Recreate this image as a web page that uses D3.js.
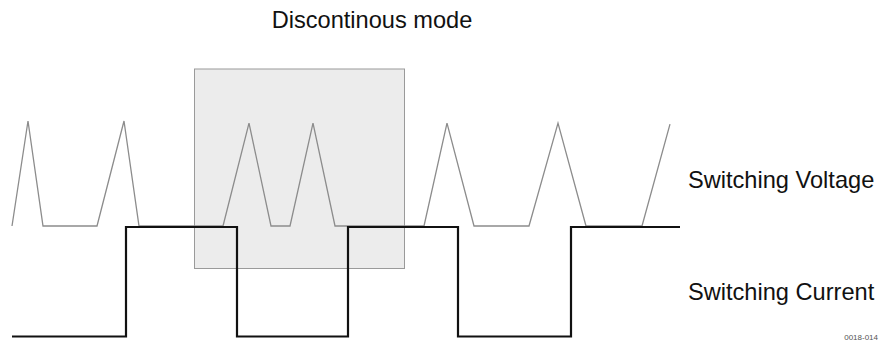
<!DOCTYPE html>
<html>
<head>
  <meta charset="utf-8">
  <title>Discontinous mode</title>
  <script src="https://d3js.org/d3.v7.min.js"></script>
  <style>
    body { margin: 0; background: #fff; }
    svg { display: block; font-family: "Liberation Sans", Arial, sans-serif; }
  </style>
</head>
<body>
<svg id="chart" width="882" height="343"></svg>
<script>
  // time in arbitrary units (µs), levels normalised 0..1
  const voltageTimes  = [0, 1.6, 3.1, 8.5, 11.2, 12.7, 21.1, 23.7, 25.9, 27.8, 30.1, 32.3, 41.2, 43.5, 46.2, 51.7, 54.6, 57.4, 63.0, 65.8];
  const voltageLevels = [0, 1,   0,   0,   1,    0,    0,    0.98, 0,    0,    0.98, 0,    0,    0.98, 0,    0,    0.98, 0,    0,    0.97];

  const currentTimes  = [0, 11.4, 22.5, 33.6, 44.6, 55.9, 66.8];
  const currentLevels = [0, 1,    0,    1,    0,    1,    1];

  const windowTimes  = [18.2, 39.2];   // highlighted discontinuous-mode interval
  const windowLevels = [-0.4, 1.5];    // on the voltage scale

  const title = "Discontinous mode";
  const seriesLabels = ["Switching Voltage", "Switching Current"];
  const figureId = "0018-014";

  const svg = d3.select("#chart");

  const x = d3.scaleLinear().domain([0, 66.8]).range([12, 680]);
  const yV = d3.scaleLinear().domain([0, 1]).range([226, 121]);
  const yI = d3.scaleLinear().domain([0, 1]).range([336.5, 227]);

  // highlight box
  svg.append("rect")
    .attr("x", x(windowTimes[0]) + 0.5)
    .attr("y", yV(windowLevels[1]) + 0.5)
    .attr("width", x(windowTimes[1]) - x(windowTimes[0]))
    .attr("height", yV(windowLevels[0]) - yV(windowLevels[1]))
    .attr("fill", "#ececec")
    .attr("stroke", "#9a9a9a")
    .attr("stroke-width", 1);

  const vData = voltageTimes.map((t, i) => ({ t, v: voltageLevels[i] }));
  const iData = currentTimes.map((t, i) => ({ t, v: currentLevels[i] }));

  svg.append("path")
    .datum(vData)
    .attr("fill", "none")
    .attr("stroke", "#8c8c8c")
    .attr("stroke-width", 1.3)
    .attr("d", d3.line().x(d => x(d.t)).y(d => yV(d.v)));

  svg.append("path")
    .datum(iData)
    .attr("fill", "none")
    .attr("stroke", "#111")
    .attr("stroke-width", 2.2)
    .attr("d", d3.line().curve(d3.curveStepAfter).x(d => x(d.t)).y(d => yI(d.v)));

  svg.append("text")
    .attr("x", 372)
    .attr("y", 28)
    .attr("text-anchor", "middle")
    .attr("font-size", 23.6)
    .attr("fill", "#111")
    .text(title);

  svg.selectAll(".label")
    .data(seriesLabels)
    .enter().append("text")
    .attr("class", "label")
    .attr("x", 688)
    .attr("y", (d, i) => i === 0 ? 188 : 300)
    .attr("font-size", 23.6)
    .attr("fill", "#111")
    .text(d => d);

  svg.append("text")
    .attr("x", 878)
    .attr("y", 340)
    .attr("text-anchor", "end")
    .attr("font-size", 8)
    .attr("fill", "#555")
    .text(figureId);
</script>
</body>
</html>
